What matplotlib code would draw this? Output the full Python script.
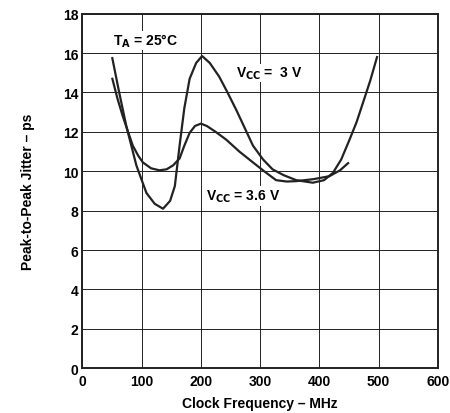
import matplotlib
matplotlib.use("Agg")
import matplotlib.pyplot as plt
import numpy as np

plt.rcParams['font.family'] = ['Liberation Sans', 'DejaVu Sans']
plt.rcParams['font.weight'] = 'bold'

# Vcc = 3 V curve (high peak)
freq_3v = [50, 62, 74, 91, 108, 122, 136, 148, 156, 164, 172, 181, 192, 202, 215, 231,
           245, 260, 274, 288, 305, 321, 340, 361, 389, 408, 423, 437, 451, 463, 474, 486, 498]
jitter_3v = [15.8, 14.0, 12.3, 10.3, 8.9, 8.35, 8.1, 8.5, 9.25, 11.3, 13.2, 14.7, 15.5, 15.85, 15.5, 14.8,
             14.0, 13.1, 12.2, 11.3, 10.6, 10.1, 9.8, 9.55, 9.42, 9.55, 9.92, 10.6, 11.6, 12.5, 13.5, 14.6, 15.85]

# Vcc = 3.6 V curve (lower peak)
freq_36v = [50, 59, 68, 77, 85, 94, 102, 116, 130, 142, 153, 164, 172, 181, 190, 200,
            210, 225, 243, 265, 288, 307, 327, 345, 361, 390, 417, 435, 450]
jitter_36v = [14.75, 13.7, 12.8, 12.0, 11.3, 10.8, 10.45, 10.15, 10.05, 10.1, 10.3, 10.65, 11.3, 11.95, 12.3, 12.42,
              12.3, 12.0, 11.6, 11.0, 10.45, 10.0, 9.55, 9.48, 9.5, 9.6, 9.75, 10.05, 10.45]

x_ticks = [0, 100, 200, 300, 400, 500, 600]
y_ticks = [0, 2, 4, 6, 8, 10, 12, 14, 16, 18]

fig = plt.figure(figsize=(4.5, 4.14), dpi=100)
ax = fig.add_axes([0.1833, 0.108, 0.7894, 0.8565])

ax.plot(freq_3v, jitter_3v, color='#222222', lw=1.6, solid_capstyle='butt', zorder=3)
ax.plot(freq_36v, jitter_36v, color='#222222', lw=1.6, solid_capstyle='butt', zorder=3)

ax.set_xlim(0, 600)
ax.set_ylim(0, 18)
ax.set_xticks(x_ticks)
ax.set_yticks(y_ticks)
ax.tick_params(length=0, labelsize=10)
ax.tick_params(axis='y', pad=3)
ax.tick_params(axis='x', pad=4)
for lbl in ax.get_xticklabels() + ax.get_yticklabels():
    lbl.set_fontweight('bold')
ax.grid(True, color='#222222', lw=0.7)
ax.set_axisbelow(True)
for s in ax.spines.values():
    s.set_linewidth(1.4)
    s.set_color('#222222')

ax.set_xlabel('Clock Frequency – MHz', fontsize=10, fontweight='bold', labelpad=6)
ax.set_ylabel('Peak-to-Peak Jitter – ps', fontsize=10, fontweight='bold', labelpad=20)

ax.text(51, 16.65, r'T$_\mathbf{A}$ = 25°C', fontsize=10, fontweight='bold', va='center', ha='left',
        bbox=dict(facecolor='white', edgecolor='none', pad=0.5), zorder=4)
ax.text(260, 15.0, r'V$_\mathbf{CC}$ =  3 V', fontsize=10, fontweight='bold', va='center', ha='left',
        bbox=dict(facecolor='white', edgecolor='none', pad=0.5), zorder=4)
ax.text(209, 8.75, r'V$_\mathbf{CC}$ = 3.6 V', fontsize=10, fontweight='bold', va='center', ha='left',
        bbox=dict(facecolor='white', edgecolor='none', pad=1.5), zorder=4)

fig.savefig('out.png', dpi=100)
